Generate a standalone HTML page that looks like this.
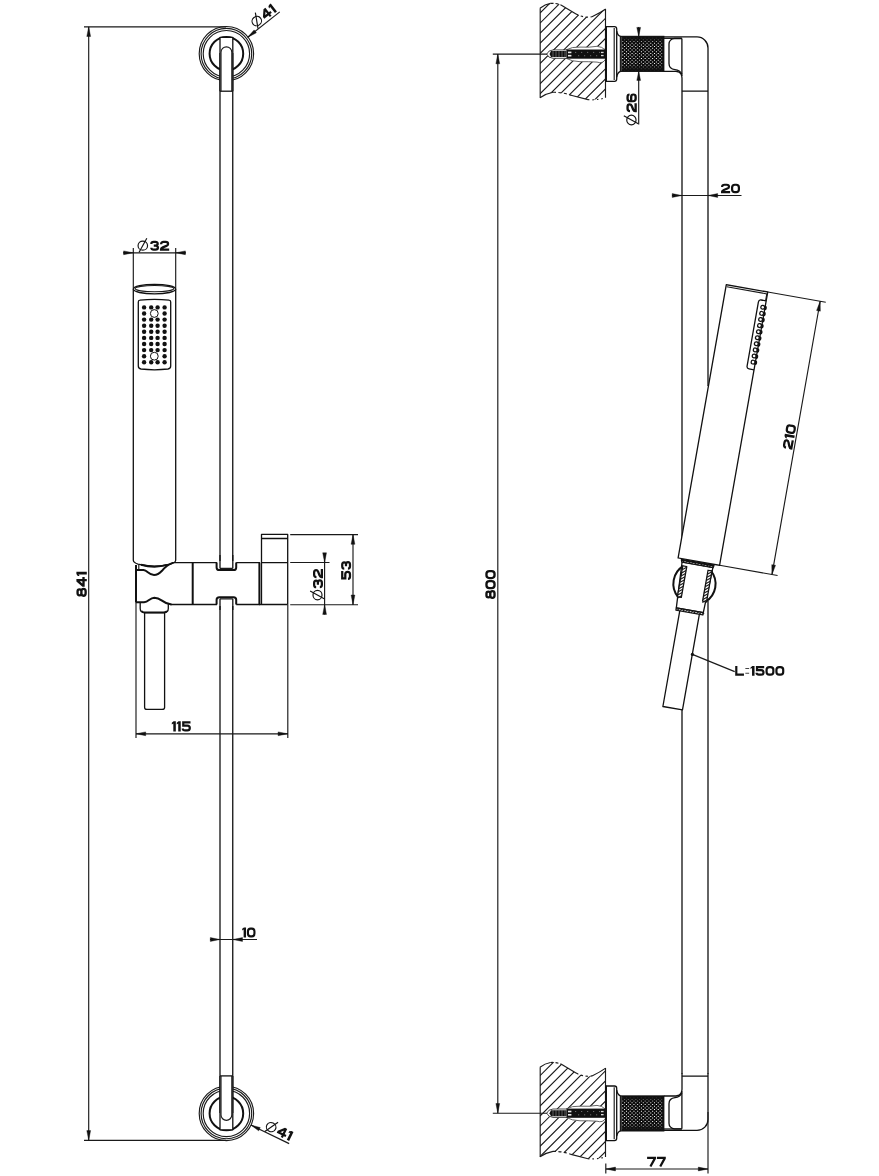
<!DOCTYPE html>
<html><head><meta charset="utf-8"><title>Shower rail drawing</title>
<style>
html,body{margin:0;padding:0;background:#fff;}
body{width:879px;height:1176px;overflow:hidden;font-family:"Liberation Sans",sans-serif;}
svg{display:block;}
text{font-family:"Liberation Sans",sans-serif;font-weight:bold;fill:#111;}
.o{fill:none;stroke:#111;stroke-width:1.3;stroke-linejoin:round;stroke-linecap:butt;}
.t{fill:none;stroke:#1a1a1a;stroke-width:1.15;}
.k{fill:none;stroke:#111;stroke-width:2;}
.w{fill:#fff;stroke:#111;stroke-width:1.3;stroke-linejoin:round;}
</style></head><body>
<svg width="879" height="1176" viewBox="0 0 879 1176">
<defs>
<g id="knurl"><rect width="43.6" height="35.1" fill="#0a0a0a"/><path fill="#fff" d="M1.90,1.30h1.05v1h-1.05zM5.64,1.30h1.05v1h-1.05zM9.38,1.30h1.05v1h-1.05zM13.12,1.30h1.05v1h-1.05zM16.86,1.30h1.05v1h-1.05zM20.60,1.30h1.05v1h-1.05zM24.34,1.30h1.05v1h-1.05zM28.08,1.30h1.05v1h-1.05zM31.82,1.30h1.05v1h-1.05zM35.56,1.30h1.05v1h-1.05zM39.30,1.30h1.05v1h-1.05zM3.77,3.00h1.05v1h-1.05zM7.51,3.00h1.05v1h-1.05zM11.25,3.00h1.05v1h-1.05zM14.99,3.00h1.05v1h-1.05zM18.73,3.00h1.05v1h-1.05zM22.47,3.00h1.05v1h-1.05zM26.21,3.00h1.05v1h-1.05zM29.95,3.00h1.05v1h-1.05zM33.69,3.00h1.05v1h-1.05zM37.43,3.00h1.05v1h-1.05zM41.17,3.00h1.05v1h-1.05zM1.90,4.70h1.05v1h-1.05zM5.64,4.70h1.05v1h-1.05zM9.38,4.70h1.05v1h-1.05zM13.12,4.70h1.05v1h-1.05zM16.86,4.70h1.05v1h-1.05zM20.60,4.70h1.05v1h-1.05zM24.34,4.70h1.05v1h-1.05zM28.08,4.70h1.05v1h-1.05zM31.82,4.70h1.05v1h-1.05zM35.56,4.70h1.05v1h-1.05zM39.30,4.70h1.05v1h-1.05zM3.77,6.40h1.05v1h-1.05zM7.51,6.40h1.05v1h-1.05zM11.25,6.40h1.05v1h-1.05zM14.99,6.40h1.05v1h-1.05zM18.73,6.40h1.05v1h-1.05zM22.47,6.40h1.05v1h-1.05zM26.21,6.40h1.05v1h-1.05zM29.95,6.40h1.05v1h-1.05zM33.69,6.40h1.05v1h-1.05zM37.43,6.40h1.05v1h-1.05zM41.17,6.40h1.05v1h-1.05zM1.90,8.10h1.05v1h-1.05zM5.64,8.10h1.05v1h-1.05zM9.38,8.10h1.05v1h-1.05zM13.12,8.10h1.05v1h-1.05zM16.86,8.10h1.05v1h-1.05zM20.60,8.10h1.05v1h-1.05zM24.34,8.10h1.05v1h-1.05zM28.08,8.10h1.05v1h-1.05zM31.82,8.10h1.05v1h-1.05zM35.56,8.10h1.05v1h-1.05zM39.30,8.10h1.05v1h-1.05zM3.77,9.80h1.05v1h-1.05zM7.51,9.80h1.05v1h-1.05zM11.25,9.80h1.05v1h-1.05zM14.99,9.80h1.05v1h-1.05zM18.73,9.80h1.05v1h-1.05zM22.47,9.80h1.05v1h-1.05zM26.21,9.80h1.05v1h-1.05zM29.95,9.80h1.05v1h-1.05zM33.69,9.80h1.05v1h-1.05zM37.43,9.80h1.05v1h-1.05zM41.17,9.80h1.05v1h-1.05zM1.90,11.50h1.05v1h-1.05zM5.64,11.50h1.05v1h-1.05zM9.38,11.50h1.05v1h-1.05zM13.12,11.50h1.05v1h-1.05zM16.86,11.50h1.05v1h-1.05zM20.60,11.50h1.05v1h-1.05zM24.34,11.50h1.05v1h-1.05zM28.08,11.50h1.05v1h-1.05zM31.82,11.50h1.05v1h-1.05zM35.56,11.50h1.05v1h-1.05zM39.30,11.50h1.05v1h-1.05zM3.77,13.20h1.05v1h-1.05zM7.51,13.20h1.05v1h-1.05zM11.25,13.20h1.05v1h-1.05zM14.99,13.20h1.05v1h-1.05zM18.73,13.20h1.05v1h-1.05zM22.47,13.20h1.05v1h-1.05zM26.21,13.20h1.05v1h-1.05zM29.95,13.20h1.05v1h-1.05zM33.69,13.20h1.05v1h-1.05zM37.43,13.20h1.05v1h-1.05zM41.17,13.20h1.05v1h-1.05zM1.90,14.90h1.05v1h-1.05zM5.64,14.90h1.05v1h-1.05zM9.38,14.90h1.05v1h-1.05zM13.12,14.90h1.05v1h-1.05zM16.86,14.90h1.05v1h-1.05zM20.60,14.90h1.05v1h-1.05zM24.34,14.90h1.05v1h-1.05zM28.08,14.90h1.05v1h-1.05zM31.82,14.90h1.05v1h-1.05zM35.56,14.90h1.05v1h-1.05zM39.30,14.90h1.05v1h-1.05zM3.77,16.60h1.05v1h-1.05zM7.51,16.60h1.05v1h-1.05zM11.25,16.60h1.05v1h-1.05zM14.99,16.60h1.05v1h-1.05zM18.73,16.60h1.05v1h-1.05zM22.47,16.60h1.05v1h-1.05zM26.21,16.60h1.05v1h-1.05zM29.95,16.60h1.05v1h-1.05zM33.69,16.60h1.05v1h-1.05zM37.43,16.60h1.05v1h-1.05zM41.17,16.60h1.05v1h-1.05zM1.90,18.30h1.05v1h-1.05zM5.64,18.30h1.05v1h-1.05zM9.38,18.30h1.05v1h-1.05zM13.12,18.30h1.05v1h-1.05zM16.86,18.30h1.05v1h-1.05zM20.60,18.30h1.05v1h-1.05zM24.34,18.30h1.05v1h-1.05zM28.08,18.30h1.05v1h-1.05zM31.82,18.30h1.05v1h-1.05zM35.56,18.30h1.05v1h-1.05zM39.30,18.30h1.05v1h-1.05zM3.77,20.00h1.05v1h-1.05zM7.51,20.00h1.05v1h-1.05zM11.25,20.00h1.05v1h-1.05zM14.99,20.00h1.05v1h-1.05zM18.73,20.00h1.05v1h-1.05zM22.47,20.00h1.05v1h-1.05zM26.21,20.00h1.05v1h-1.05zM29.95,20.00h1.05v1h-1.05zM33.69,20.00h1.05v1h-1.05zM37.43,20.00h1.05v1h-1.05zM41.17,20.00h1.05v1h-1.05zM1.90,21.70h1.05v1h-1.05zM5.64,21.70h1.05v1h-1.05zM9.38,21.70h1.05v1h-1.05zM13.12,21.70h1.05v1h-1.05zM16.86,21.70h1.05v1h-1.05zM20.60,21.70h1.05v1h-1.05zM24.34,21.70h1.05v1h-1.05zM28.08,21.70h1.05v1h-1.05zM31.82,21.70h1.05v1h-1.05zM35.56,21.70h1.05v1h-1.05zM39.30,21.70h1.05v1h-1.05zM3.77,23.40h1.05v1h-1.05zM7.51,23.40h1.05v1h-1.05zM11.25,23.40h1.05v1h-1.05zM14.99,23.40h1.05v1h-1.05zM18.73,23.40h1.05v1h-1.05zM22.47,23.40h1.05v1h-1.05zM26.21,23.40h1.05v1h-1.05zM29.95,23.40h1.05v1h-1.05zM33.69,23.40h1.05v1h-1.05zM37.43,23.40h1.05v1h-1.05zM41.17,23.40h1.05v1h-1.05zM1.90,25.10h1.05v1h-1.05zM5.64,25.10h1.05v1h-1.05zM9.38,25.10h1.05v1h-1.05zM13.12,25.10h1.05v1h-1.05zM16.86,25.10h1.05v1h-1.05zM20.60,25.10h1.05v1h-1.05zM24.34,25.10h1.05v1h-1.05zM28.08,25.10h1.05v1h-1.05zM31.82,25.10h1.05v1h-1.05zM35.56,25.10h1.05v1h-1.05zM39.30,25.10h1.05v1h-1.05zM3.77,26.80h1.05v1h-1.05zM7.51,26.80h1.05v1h-1.05zM11.25,26.80h1.05v1h-1.05zM14.99,26.80h1.05v1h-1.05zM18.73,26.80h1.05v1h-1.05zM22.47,26.80h1.05v1h-1.05zM26.21,26.80h1.05v1h-1.05zM29.95,26.80h1.05v1h-1.05zM33.69,26.80h1.05v1h-1.05zM37.43,26.80h1.05v1h-1.05zM41.17,26.80h1.05v1h-1.05zM1.90,28.50h1.05v1h-1.05zM5.64,28.50h1.05v1h-1.05zM9.38,28.50h1.05v1h-1.05zM13.12,28.50h1.05v1h-1.05zM16.86,28.50h1.05v1h-1.05zM20.60,28.50h1.05v1h-1.05zM24.34,28.50h1.05v1h-1.05zM28.08,28.50h1.05v1h-1.05zM31.82,28.50h1.05v1h-1.05zM35.56,28.50h1.05v1h-1.05zM39.30,28.50h1.05v1h-1.05zM3.77,30.20h1.05v1h-1.05zM7.51,30.20h1.05v1h-1.05zM11.25,30.20h1.05v1h-1.05zM14.99,30.20h1.05v1h-1.05zM18.73,30.20h1.05v1h-1.05zM22.47,30.20h1.05v1h-1.05zM26.21,30.20h1.05v1h-1.05zM29.95,30.20h1.05v1h-1.05zM33.69,30.20h1.05v1h-1.05zM37.43,30.20h1.05v1h-1.05zM41.17,30.20h1.05v1h-1.05zM1.90,31.90h1.05v1h-1.05zM5.64,31.90h1.05v1h-1.05zM9.38,31.90h1.05v1h-1.05zM13.12,31.90h1.05v1h-1.05zM16.86,31.90h1.05v1h-1.05zM20.60,31.90h1.05v1h-1.05zM24.34,31.90h1.05v1h-1.05zM28.08,31.90h1.05v1h-1.05zM31.82,31.90h1.05v1h-1.05zM35.56,31.90h1.05v1h-1.05zM39.30,31.90h1.05v1h-1.05zM3.77,33.60h1.05v1h-1.05zM7.51,33.60h1.05v1h-1.05zM11.25,33.60h1.05v1h-1.05zM14.99,33.60h1.05v1h-1.05zM18.73,33.60h1.05v1h-1.05zM22.47,33.60h1.05v1h-1.05zM26.21,33.60h1.05v1h-1.05zM29.95,33.60h1.05v1h-1.05zM33.69,33.60h1.05v1h-1.05zM37.43,33.60h1.05v1h-1.05zM41.17,33.60h1.05v1h-1.05z"/></g>
<linearGradient id="kg" x1="0" y1="0" x2="0" y2="1">
<stop offset="0" stop-color="#111" stop-opacity="1"/>
<stop offset="0.07" stop-color="#111" stop-opacity="0.85"/>
<stop offset="0.2" stop-color="#111" stop-opacity="0.05"/>
<stop offset="0.5" stop-color="#111" stop-opacity="0"/>
<stop offset="0.8" stop-color="#111" stop-opacity="0.05"/>
<stop offset="0.93" stop-color="#111" stop-opacity="0.85"/>
<stop offset="1" stop-color="#111" stop-opacity="1"/>
</linearGradient>
</defs>
<rect width="879" height="1176" fill="#fff"/>

<g id="left">
<path class="t" d="M84,26.8 H226 M84,1140.3 H226 M88.7,26.8 V1140.3"/>
<path transform="translate(88.7,26.8) rotate(-90)" d="M0,0 L-9.7,-1.9 L-9.7,1.9 Z" fill="#111" stroke="#111" stroke-width="0.4"/>
<path transform="translate(88.7,1140.3) rotate(90)" d="M0,0 L-9.7,-1.9 L-9.7,1.9 Z" fill="#111" stroke="#111" stroke-width="0.4"/>
<g transform="translate(86.8,584.35) rotate(-90) scale(1.0458,1.0612)" fill="none" stroke="#111" stroke-width="2.2" stroke-linejoin="miter" stroke-linecap="butt"><path transform="translate(-10.90,-8.70)" d="M2.3,0 H4.2 Q6.1,0 6.1,1.8 Q6.1,3.5999999999999996 4.2,3.5999999999999996 H2.3 Q0.4,3.5999999999999996 0.4,1.8 Q0.4,0 2.3,0 Z M2.3,3.5999999999999996 H4.2 Q6.5,3.5999999999999996 6.5,5.6 Q6.5,7.6 4.2,7.6 H2.3 Q0,7.6 0,5.6 Q0,3.5999999999999996 2.3,3.5999999999999996 Z"/><path transform="translate(-1.30,-8.70)" d="M5.4,8.7 V0 H4.6 L0,5 V5.6 H8.4"/><path transform="translate(9.10,-8.70)" d="M2.9,-1.1 V8.7 H0.3999999999999999 V0.8999999999999999 L-1.1,1.9 V0.19999999999999996 L0.7,-1.1 Z" fill="#111" stroke="none"/></g>
<path class="o" d="M220,53 V563 M232.75,53 V563 M220,604.4 V1113 M232.75,604.4 V1113" stroke-width="1.75"/>
<circle class="t" cx="226.4" cy="53.7" r="27.2"/>
<circle class="t" cx="226.4" cy="53.7" r="25.3" stroke-width="0.9"/>
<circle class="t" cx="226.4" cy="53.7" r="23.2" stroke-width="0.9"/>
<circle class="k" cx="226.4" cy="53.7" r="16.8" stroke-width="2.2"/>
<path class="w" d="M220,91.2 V37.300000000000004 H232.8 V91.2"/>
<path class="o" d="M220,91.2 H232.8"/>
<path class="t" d="M221,91.2 V52.2 A5.4,5.4 0 0 1 231.8,52.2 V91.2" stroke-width="0.9"/>
<circle class="t" cx="226.4" cy="1113.4" r="27.2"/>
<circle class="t" cx="226.4" cy="1113.4" r="25.3" stroke-width="0.9"/>
<circle class="t" cx="226.4" cy="1113.4" r="23.2" stroke-width="0.9"/>
<circle class="k" cx="226.4" cy="1113.4" r="16.8" stroke-width="2.2"/>
<path class="w" d="M220,1075.9 V1129.8000000000002 H232.8 V1075.9"/>
<path class="o" d="M220,1075.9 H232.8"/>
<path class="t" d="M221,1075.9 V1114.9 A5.4,5.4 0 0 0 231.8,1114.9 V1075.9" stroke-width="0.9"/>
<g transform="translate(247.7,37.3) rotate(-38.35)"><path class="t" d="M0,0 H40.9"/><path transform="translate(0,0) rotate(180)" d="M0,0 L-9.6,-1.8 L-9.6,1.8 Z" fill="#111" stroke="#111" stroke-width="0.4"/><g fill="none" stroke="#111" stroke-width="1.15"><ellipse cx="17.2" cy="-7.1" rx="4.8" ry="4.56"/><path d="M13.456,-0.3799999999999999 L21.28,-14.54"/></g><g transform="translate(24.5,-2.2) scale(1.0069,1.0204)" fill="none" stroke="#111" stroke-width="2.2" stroke-linejoin="miter" stroke-linecap="butt"><path transform="translate(1.10,-8.70)" d="M5.4,8.7 V0 H4.6 L0,5 V5.6 H8.4"/><path transform="translate(11.50,-8.70)" d="M2.9,-1.1 V8.7 H0.3999999999999999 V0.8999999999999999 L-1.1,1.9 V0.19999999999999996 L0.7,-1.1 Z" fill="#111" stroke="none"/></g></g>
<g transform="translate(251,1125.1) rotate(25.9)"><path class="t" d="M0,0 H42.4"/><path transform="translate(0,0) rotate(180)" d="M0,0 L-9.4,-1.8 L-9.4,1.8 Z" fill="#111" stroke="#111" stroke-width="0.4"/><g fill="none" stroke="#111" stroke-width="1.15"><ellipse cx="19" cy="-7" rx="4.8" ry="4.56"/><path d="M15.256,-0.28000000000000025 L23.08,-14.44"/></g><g transform="translate(26.45,-2.4) scale(1.0243,1.0204)" fill="none" stroke="#111" stroke-width="2.2" stroke-linejoin="miter" stroke-linecap="butt"><path transform="translate(1.10,-8.70)" d="M5.4,8.7 V0 H4.6 L0,5 V5.6 H8.4"/><path transform="translate(11.50,-8.70)" d="M2.9,-1.1 V8.7 H0.3999999999999999 V0.8999999999999999 L-1.1,1.9 V0.19999999999999996 L0.7,-1.1 Z" fill="#111" stroke="none"/></g></g>
<path class="o" d="M133.3,288.6 V560.3 Q133.5,562.8 138,564.2 Q154.5,568.6 171,564 Q175.5,562.6 175.7,560.3 V288.6" stroke-width="1.15"/>
<path class="k" d="M141,564.8 Q154.5,568.4 167,564.9" stroke-width="1.7"/>
<ellipse class="o" cx="154.5" cy="289.1" rx="21.2" ry="4.8"/>
<ellipse class="t" cx="154.5" cy="288.6" rx="19.4" ry="3.1"/>
<path class="o" d="M138.3,302 Q138.3,300.3 140,300.2 Q154.5,298.7 169,300.2 Q170.7,300.3 170.7,302 V366 Q170.7,368.6 168,369 Q154.5,370.6 141,369 Q138.3,368.6 138.3,366 Z"/>
<circle cx="144.1" cy="307.4" r="2.2" fill="#111"/>
<circle cx="151.2" cy="307.4" r="2.2" fill="#111"/>
<circle cx="157.6" cy="307.4" r="2.2" fill="#111"/>
<circle cx="164.6" cy="307.4" r="2.2" fill="#111"/>
<circle cx="144.1" cy="313.5" r="2.2" fill="#111"/>
<circle cx="164.6" cy="313.5" r="2.2" fill="#111"/>
<circle cx="144.1" cy="319.6" r="2.2" fill="#111"/>
<circle cx="151.2" cy="319.6" r="2.2" fill="#111"/>
<circle cx="157.6" cy="319.6" r="2.2" fill="#111"/>
<circle cx="164.6" cy="319.6" r="2.2" fill="#111"/>
<circle cx="144.1" cy="325.7" r="2.2" fill="#111"/>
<circle cx="151.2" cy="325.7" r="2.2" fill="#111"/>
<circle cx="157.6" cy="325.7" r="2.2" fill="#111"/>
<circle cx="164.6" cy="325.7" r="2.2" fill="#111"/>
<circle cx="144.1" cy="331.8" r="2.2" fill="#111"/>
<circle cx="151.2" cy="331.8" r="2.2" fill="#111"/>
<circle cx="157.6" cy="331.8" r="2.2" fill="#111"/>
<circle cx="164.6" cy="331.8" r="2.2" fill="#111"/>
<circle cx="144.1" cy="337.9" r="2.2" fill="#111"/>
<circle cx="151.2" cy="337.9" r="2.2" fill="#111"/>
<circle cx="157.6" cy="337.9" r="2.2" fill="#111"/>
<circle cx="164.6" cy="337.9" r="2.2" fill="#111"/>
<circle cx="144.1" cy="344.0" r="2.2" fill="#111"/>
<circle cx="151.2" cy="344.0" r="2.2" fill="#111"/>
<circle cx="157.6" cy="344.0" r="2.2" fill="#111"/>
<circle cx="164.6" cy="344.0" r="2.2" fill="#111"/>
<circle cx="144.1" cy="350.1" r="2.2" fill="#111"/>
<circle cx="151.2" cy="350.1" r="2.2" fill="#111"/>
<circle cx="157.6" cy="350.1" r="2.2" fill="#111"/>
<circle cx="164.6" cy="350.1" r="2.2" fill="#111"/>
<circle cx="144.1" cy="356.2" r="2.2" fill="#111"/>
<circle cx="164.6" cy="356.2" r="2.2" fill="#111"/>
<circle cx="144.1" cy="362.3" r="2.2" fill="#111"/>
<circle cx="151.2" cy="362.3" r="2.2" fill="#111"/>
<circle cx="157.6" cy="362.3" r="2.2" fill="#111"/>
<circle cx="164.6" cy="362.3" r="2.2" fill="#111"/>
<circle cx="154.3" cy="313.5" r="3.9" fill="#fff" stroke="#111" stroke-width="1"/>
<circle cx="154.3" cy="356.2" r="3.9" fill="#fff" stroke="#111" stroke-width="1"/>
<path class="t" d="M133.3,248 V288 M175.7,248 V288 M123,252.8 H186"/>
<path transform="translate(133.3,252.8) rotate(0)" d="M0,0 L-9.7,-1.9 L-9.7,1.9 Z" fill="#111" stroke="#111" stroke-width="0.4"/>
<path transform="translate(175.7,252.8) rotate(180)" d="M0,0 L-9.7,-1.9 L-9.7,1.9 Z" fill="#111" stroke="#111" stroke-width="0.4"/>
<g fill="none" stroke="#111" stroke-width="1.15"><ellipse cx="142.8" cy="245.65" rx="4.75" ry="4.5125"/><path d="M139.095,252.3 L146.8375,238.2875"/></g>
<g transform="translate(150.2,250.8) scale(1.0160,1.0204)" fill="none" stroke="#111" stroke-width="2.2" stroke-linejoin="miter" stroke-linecap="butt"><path transform="translate(1.10,-8.70)" d="M0,2.0 Q0,0 2.4,0 H4.0 Q6.3,0 6.3,1.9 Q6.3,3.6999999999999997 4.1,3.6999999999999997 H2.4 M4.1,3.6999999999999997 Q6.5,3.6999999999999997 6.5,5.699999999999999 Q6.5,7.6 4.1,7.6 H2.4 Q0,7.6 0,5.6"/><path transform="translate(10.70,-8.70)" d="M0,2.3 Q0,0 2.4,0 H4.5 Q6.9,0 6.9,2.0 Q6.9,3.3 5.3,3.9 L1.7,5.3 Q0,6 0,7 V7.6 H8.0"/></g>
<path class="o" d="M172,562.6 H260 M170.5,604.5 H260"/>
<path class="k" d="M136,565 V602.6" stroke-width="1.8"/>
<path class="k" d="M192.7,563 V604.4"/>
<path class="k" d="M259.4,562.6 V604.5" stroke-width="1.7"/>
<path d="M217,561 H236.2 V569 H217Z M217,606 H236.2 V598.4 H217Z" fill="#fff"/>
<path class="k" d="M216.6,562.6 V567.4 Q216.6,570 219.4,570 H233.6 Q236.2,570 236.2,567.4 V562.6" stroke-width="1.7"/>
<path class="k" d="M216.6,604.5 V599.8 Q216.6,597.3 219.4,597.3 H233.6 Q236.2,597.3 236.2,599.8 V604.5" stroke-width="1.7"/>
<path class="o" d="M220,555 V568.6 M232.8,555 V568.6 M220,598.8 V610 M232.8,598.8 V610" stroke-width="1.8"/>
<path class="t" d="M220,568.4 H232.8 M220,598.9 H232.8" stroke-width="1.1"/>
<path class="k" d="M136,570 H143.5 Q145.5,570.2 147.5,572 Q151,575 154,575 Q158,575 162,570.8 Q166.5,565.2 172.5,562.9" stroke-width="2"/>
<path class="t" d="M138.8,565 V570" stroke-width="1"/>
<path class="k" d="M135.6,602.2 H144 Q146.5,602 149,600 Q152,597.7 154.3,597.7 Q158,597.8 162,600.6 Q166.5,604 171.5,604.6" stroke-width="2"/>
<path class="o" d="M261.5,604.4 V534.4 H287.7 V604.4 M261.5,538.5 H287.7 M261.5,562.6 H287.7 M259.2,604.5 H287.7" stroke-width="1.05" stroke="#222"/>
<path class="o" d="M140.2,603 V608.5 Q140.2,612.6 145,612.6 H163.6 Q168.3,612.6 168.3,608.5 V603.8" stroke-width="1.2"/>
<path class="k" d="M141.5,611 Q142.6,612.6 145,612.6 H163.6 Q166,612.6 167,611" stroke-width="1.9"/>
<path class="o" d="M144.6,612.5 V707.5 Q144.6,709.4 147,709.4 H162 Q164.6,709.4 164.6,707.5 V612.5" stroke-width="1.1" stroke="#2a2a2a"/>
<path class="t" d="M136,603 V738 M287.8,604.4 V738 M136,733.8 H287.8"/>
<path transform="translate(136,733.8) rotate(180)" d="M0,0 L-9.7,-1.9 L-9.7,1.9 Z" fill="#111" stroke="#111" stroke-width="0.4"/>
<path transform="translate(287.8,733.8) rotate(0)" d="M0,0 L-9.7,-1.9 L-9.7,1.9 Z" fill="#111" stroke="#111" stroke-width="0.4"/>
<g transform="translate(171.8,731.6) scale(1.0053,1.0510)" fill="none" stroke="#111" stroke-width="2.2" stroke-linejoin="miter" stroke-linecap="butt"><path transform="translate(1.10,-8.70)" d="M2.9,-1.1 V8.7 H0.3999999999999999 V0.8999999999999999 L-1.1,1.9 V0.19999999999999996 L0.7,-1.1 Z" fill="#111" stroke="none"/><path transform="translate(6.00,-8.70)" d="M2.9,-1.1 V8.7 H0.3999999999999999 V0.8999999999999999 L-1.1,1.9 V0.19999999999999996 L0.7,-1.1 Z" fill="#111" stroke="none"/><path transform="translate(10.90,-8.70)" d="M7.699999999999999,0 H0.5 V3.0 H4.5 Q7.0,3.0 7.0,5.3 Q7.0,7.6 4.5,7.6 H2.4 Q0,7.6 0,5.699999999999999"/></g>
<path class="t" d="M290.2,534.6 H358 M290.2,604.7 H358 M290.2,562.5 H329.5 M353,534.6 V604.7 M324.6,553 V614.4"/>
<path transform="translate(353,534.6) rotate(-90)" d="M0,0 L-9.7,-1.9 L-9.7,1.9 Z" fill="#111" stroke="#111" stroke-width="0.4"/>
<path transform="translate(353,604.7) rotate(90)" d="M0,0 L-9.7,-1.9 L-9.7,1.9 Z" fill="#111" stroke="#111" stroke-width="0.4"/>
<path transform="translate(324.6,562.5) rotate(90)" d="M0,0 L-9.7,-1.9 L-9.7,1.9 Z" fill="#111" stroke="#111" stroke-width="0.4"/>
<path transform="translate(324.6,604.7) rotate(-90)" d="M0,0 L-9.7,-1.9 L-9.7,1.9 Z" fill="#111" stroke="#111" stroke-width="0.4"/>
<g transform="translate(351.1,570.5) rotate(-90) scale(1.0160,1.0204)" fill="none" stroke="#111" stroke-width="2.2" stroke-linejoin="miter" stroke-linecap="butt"><path transform="translate(-8.30,-8.70)" d="M7.699999999999999,0 H0.5 V3.0 H4.5 Q7.0,3.0 7.0,5.3 Q7.0,7.6 4.5,7.6 H2.4 Q0,7.6 0,5.699999999999999"/><path transform="translate(1.80,-8.70)" d="M0,2.0 Q0,0 2.4,0 H4.0 Q6.3,0 6.3,1.9 Q6.3,3.6999999999999997 4.1,3.6999999999999997 H2.4 M4.1,3.6999999999999997 Q6.5,3.6999999999999997 6.5,5.699999999999999 Q6.5,7.6 4.1,7.6 H2.4 Q0,7.6 0,5.6"/></g>
<g transform="rotate(-90 317.5 595.1)" fill="none" stroke="#111" stroke-width="1.15"><ellipse cx="317.5" cy="595.1" rx="4.75" ry="4.5125"/><path d="M313.795,601.75 L321.5375,587.7375000000001"/></g>
<g transform="translate(323,588.3) rotate(-90) scale(1.0374,1.0204)" fill="none" stroke="#111" stroke-width="2.2" stroke-linejoin="miter" stroke-linecap="butt"><path transform="translate(1.10,-8.70)" d="M0,2.0 Q0,0 2.4,0 H4.0 Q6.3,0 6.3,1.9 Q6.3,3.6999999999999997 4.1,3.6999999999999997 H2.4 M4.1,3.6999999999999997 Q6.5,3.6999999999999997 6.5,5.699999999999999 Q6.5,7.6 4.1,7.6 H2.4 Q0,7.6 0,5.6"/><path transform="translate(10.70,-8.70)" d="M0,2.3 Q0,0 2.4,0 H4.5 Q6.9,0 6.9,2.0 Q6.9,3.3 5.3,3.9 L1.7,5.3 Q0,6 0,7 V7.6 H8.0"/></g>
<path class="t" d="M210,939.5 H257"/>
<path transform="translate(220,939.5) rotate(0)" d="M0,0 L-9.7,-1.9 L-9.7,1.9 Z" fill="#111" stroke="#111" stroke-width="0.4"/>
<path transform="translate(232.8,939.5) rotate(180)" d="M0,0 L-9.7,-1.9 L-9.7,1.9 Z" fill="#111" stroke="#111" stroke-width="0.4"/>
<g transform="translate(242.2,937.4) scale(0.9568,1.0204)" fill="none" stroke="#111" stroke-width="2.2" stroke-linejoin="miter" stroke-linecap="butt"><path transform="translate(1.10,-8.70)" d="M2.9,-1.1 V8.7 H0.3999999999999999 V0.8999999999999999 L-1.1,1.9 V0.19999999999999996 L0.7,-1.1 Z" fill="#111" stroke="none"/><path transform="translate(6.00,-8.70)" d="M2.7,0 H4.1 Q6.8,0 6.8,2.7 V4.8999999999999995 Q6.8,7.6 4.1,7.6 H2.7 Q0,7.6 0,4.8999999999999995 V2.7 Q0,0 2.7,0 Z"/></g>
</g>
<g id="right">
<clipPath id="c1"><path d="M540,8.2 Q545,4.2 552,3.2 Q558,3.0 562,5.5 L576,14.0 Q584,18.2 592,16.8 Q600,13.0 605.7,9.0 L605.7,97.8 Q596,100.5 588,99.6 L572,95.5 Q562,92.0 553,92.3 Q546,93.5 540,97.8 Z"/></clipPath>
<path clip-path="url(#c1)" class="t" stroke-width="1.55" d="M540,3.0 L606,-63.0 M540,13.1 L606,-52.9 M540,23.2 L606,-42.8 M540,33.3 L606,-32.7 M540,43.4 L606,-22.6 M540,53.5 L606,-12.5 M540,63.6 L606,-2.4 M540,73.7 L606,7.7 M540,83.8 L606,17.8 M540,93.9 L606,27.9 M540,104.0 L606,38.0 M540,114.1 L606,48.1 M540,124.2 L606,58.2 M540,134.3 L606,68.3 M540,144.4 L606,78.4 M540,154.5 L606,88.5 M540,164.6 L606,98.6 M540,174.7 L606,108.7"/>
<path class="t" stroke="#444" stroke-width="1.7" d="M540.2,8.2 V97.8 M605.5,9.0 V97.8"/>
<path class="t" d="M540,8.2 Q545,4.2 550.5,3.4"/>
<path class="t" stroke-dasharray="3 2" d="M550.5,3.4 Q556,3.0 561,5.0"/>
<path class="t" d="M561,5.0 L576,14.0"/>
<path class="t" stroke-dasharray="2.5 2.5" d="M576,14.0 Q584,18.2 592,16.8"/>
<path class="t" d="M592,16.8 Q600,13.0 605.7,9.0"/>
<path class="t" d="M540,97.8 Q546,93.5 553,92.3"/>
<path class="t" stroke-dasharray="3 2.5" d="M553,92.3 Q562,92.0 572,95.5"/>
<path class="t" d="M572,95.5 L588,99.6"/>
<path class="t" stroke-dasharray="1.5 3" d="M588,99.6 Q596,100.5 605.7,97.8"/>
<path fill="#fff" stroke="#555" stroke-width="0.9" d="M566,49.9 Q572,46.6 580,47.1 Q590,47.6 597,46.300000000000004 Q602,46.6 605.5,50.1 V59.1 Q603,64.1 597,62.1 Q588,61.5 580,61.7 Q572,61.5 566,58.300000000000004 Z"/>
<path fill="#fff" stroke="#333" stroke-width="0.9" d="M546.8,54.1 Q548,50.300000000000004 553,49.9 H567 V58.300000000000004 H553 Q548,57.9 546.8,54.1 Z"/>
<path fill="#111" d="M549.5,54.1 L551,51.1 H566.5 V57.1 H551 Z"/>
<path stroke="#bbb" stroke-width="0.45" fill="none" d="M553,51.1 V57.1 M556,51.1 V57.1 M559,51.1 V57.1 M562,51.1 V57.1 M565,51.1 V57.1"/>
<rect x="566.8" y="49.5" width="38.7" height="9.2" fill="#111"/>
<rect x="568" y="51.6" width="3.4" height="1.6" fill="#eee"/><rect x="568" y="54.9" width="3.4" height="1.6" fill="#eee"/>
<rect x="601" y="51.800000000000004" width="2.6" height="1.3" fill="#ddd"/><rect x="601" y="54.9" width="2.6" height="1.3" fill="#ddd"/>
<rect x="575" y="51.9" width="1.2" height="0.9" fill="#777"/><rect x="578" y="55.3" width="1.2" height="0.9" fill="#777"/><rect x="581" y="51.9" width="1.2" height="0.9" fill="#777"/><rect x="584" y="55.3" width="1.2" height="0.9" fill="#777"/><rect x="587" y="51.9" width="1.2" height="0.9" fill="#777"/><rect x="590" y="55.3" width="1.2" height="0.9" fill="#777"/><rect x="593" y="51.9" width="1.2" height="0.9" fill="#777"/><rect x="596" y="55.3" width="1.2" height="0.9" fill="#777"/><rect x="599" y="51.9" width="1.2" height="0.9" fill="#777"/>
<clipPath id="c2"><path d="M540,1067.3 Q545,1063.3 552,1062.3 Q558,1062.1 562,1064.6 L576,1073.1 Q584,1077.3 592,1075.9 Q600,1072.1 605.7,1068.1 L605.7,1156.9 Q596,1159.6 588,1158.7 L572,1154.6 Q562,1151.1 553,1151.4 Q546,1152.6 540,1156.9 Z"/></clipPath>
<path clip-path="url(#c2)" class="t" stroke-width="1.55" d="M540,1065.6 L606,999.6 M540,1075.7 L606,1009.7 M540,1085.8 L606,1019.8 M540,1095.9 L606,1029.9 M540,1106.0 L606,1040.0 M540,1116.1 L606,1050.1 M540,1126.2 L606,1060.2 M540,1136.3 L606,1070.3 M540,1146.4 L606,1080.4 M540,1156.5 L606,1090.5 M540,1166.6 L606,1100.6 M540,1176.7 L606,1110.7 M540,1186.8 L606,1120.8 M540,1196.9 L606,1130.9 M540,1207.0 L606,1141.0 M540,1217.1 L606,1151.1 M540,1227.2 L606,1161.2 M540,1237.3 L606,1171.3"/>
<path class="t" stroke="#444" stroke-width="1.7" d="M540.2,1067.3 V1156.9 M605.5,1068.1 V1156.9"/>
<path class="t" d="M540,1067.3 Q545,1063.3 550.5,1062.5"/>
<path class="t" stroke-dasharray="3 2" d="M550.5,1062.5 Q556,1062.1 561,1064.1"/>
<path class="t" d="M561,1064.1 L576,1073.1"/>
<path class="t" stroke-dasharray="2.5 2.5" d="M576,1073.1 Q584,1077.3 592,1075.9"/>
<path class="t" d="M592,1075.9 Q600,1072.1 605.7,1068.1"/>
<path class="t" d="M540,1156.9 Q546,1152.6 553,1151.4"/>
<path class="t" stroke-dasharray="3 2.5" d="M553,1151.4 Q562,1151.1 572,1154.6"/>
<path class="t" d="M572,1154.6 L588,1158.7"/>
<path class="t" stroke-dasharray="1.5 3" d="M588,1158.7 Q596,1159.6 605.7,1156.9"/>
<path fill="#fff" stroke="#555" stroke-width="0.9" d="M566,1109.0 Q572,1105.7 580,1106.2 Q590,1106.7 597,1105.4 Q602,1105.7 605.5,1109.2 V1118.2 Q603,1123.2 597,1121.2 Q588,1120.6000000000001 580,1120.8 Q572,1120.6000000000001 566,1117.4 Z"/>
<path fill="#fff" stroke="#333" stroke-width="0.9" d="M546.8,1113.2 Q548,1109.4 553,1109.0 H567 V1117.4 H553 Q548,1117.0 546.8,1113.2 Z"/>
<path fill="#111" d="M549.5,1113.2 L551,1110.2 H566.5 V1116.2 H551 Z"/>
<path stroke="#bbb" stroke-width="0.45" fill="none" d="M553,1110.2 V1116.2 M556,1110.2 V1116.2 M559,1110.2 V1116.2 M562,1110.2 V1116.2 M565,1110.2 V1116.2"/>
<rect x="566.8" y="1108.6000000000001" width="38.7" height="9.2" fill="#111"/>
<rect x="568" y="1110.7" width="3.4" height="1.6" fill="#eee"/><rect x="568" y="1114.0" width="3.4" height="1.6" fill="#eee"/>
<rect x="601" y="1110.9" width="2.6" height="1.3" fill="#ddd"/><rect x="601" y="1114.0" width="2.6" height="1.3" fill="#ddd"/>
<rect x="575" y="1111.0" width="1.2" height="0.9" fill="#777"/><rect x="578" y="1114.4" width="1.2" height="0.9" fill="#777"/><rect x="581" y="1111.0" width="1.2" height="0.9" fill="#777"/><rect x="584" y="1114.4" width="1.2" height="0.9" fill="#777"/><rect x="587" y="1111.0" width="1.2" height="0.9" fill="#777"/><rect x="590" y="1114.4" width="1.2" height="0.9" fill="#777"/><rect x="593" y="1111.0" width="1.2" height="0.9" fill="#777"/><rect x="596" y="1114.4" width="1.2" height="0.9" fill="#777"/><rect x="599" y="1111.0" width="1.2" height="0.9" fill="#777"/>
<path class="w" d="M606,26.7 H614.5 Q616.7,26.7 616.7,29.1 V79.1 Q616.7,81.3 614.5,81.3 H606 Z" stroke-width="1.4"/>
<path class="t" d="M614.2,28.1 V80.1" stroke-width="0.9"/>
<path class="k" d="M606,26.5 V81.5" stroke-width="2"/>
<path class="o" d="M616.7,31.1 Q617.5,35.6 620.5,36.4 M616.7,77.1 Q617.5,72.4 620.5,71.4"/>
<use href="#knurl" x="620.3" y="36.3"/>
<rect x="620.3" y="36.3" width="43.6" height="35.1" fill="url(#kg)"/>
<rect x="637.9" y="36.3" width="1.5" height="35.1" fill="#111" opacity="0.55"/>
<rect x="620.3" y="36.3" width="1.6" height="35.1" fill="#444"/>
<rect x="662.2" y="36.3" width="1.7" height="35.1" fill="#111"/>
<rect x="620.3" y="36.3" width="43.6" height="35.1" fill="none" stroke="#111" stroke-width="1"/>
<path class="o" d="M663.9,36.9 H697 A11,11 0 0 1 708,48.1 V94.1" stroke-width="1.85"/>
<path class="o" d="M663.9,38.3 H681.8" stroke-width="1"/>
<path class="o" d="M663.9,71.3 H676 Q680,71.7 681,74.1 Q681.9,75.6 682,78.1 V94.1" stroke-width="1.8"/>
<path class="o" d="M681.9,38.5 H674.5 A5.5,5.5 0 0 0 669,44.1 V63.6 Q669,69.1 675,69.7 Q680,70.3 681.9,74.1" stroke-width="1.7"/>
<path class="o" d="M681.9,38.5 V76.1 M681.9,91.2 H708" stroke-width="1.15"/>
<path class="w" d="M606,1140.6 H614.5 Q616.7,1140.6 616.7,1138.2 V1088.2 Q616.7,1086.0 614.5,1086.0 H606 Z" stroke-width="1.4"/>
<path class="t" d="M614.2,1139.2 V1087.2" stroke-width="0.9"/>
<path class="k" d="M606,1140.8 V1085.8" stroke-width="2"/>
<path class="o" d="M616.7,1136.2 Q617.5,1131.7 620.5,1130.9 M616.7,1090.2 Q617.5,1094.9 620.5,1095.9"/>
<use href="#knurl" x="620.3" y="1095.9"/>
<rect x="620.3" y="1095.9" width="43.6" height="35.1" fill="url(#kg)"/>
<rect x="637.9" y="1095.9" width="1.5" height="35.1" fill="#111" opacity="0.55"/>
<rect x="620.3" y="1095.9" width="1.6" height="35.1" fill="#444"/>
<rect x="662.2" y="1095.9" width="1.7" height="35.1" fill="#111"/>
<rect x="620.3" y="1095.9" width="43.6" height="35.1" fill="none" stroke="#111" stroke-width="1"/>
<path class="o" d="M663.9,1130.4 H697 A11,11 0 0 0 708,1119.2 V1073.2" stroke-width="1.85"/>
<path class="o" d="M663.9,1129.0 H681.8" stroke-width="1"/>
<path class="o" d="M663.9,1096.0 H676 Q680,1095.6 681,1093.2 Q681.9,1091.7 682,1089.2 V1073.2" stroke-width="1.8"/>
<path class="o" d="M681.9,1128.8 H674.5 A5.5,5.5 0 0 1 669,1123.2 V1103.7 Q669,1098.2 675,1097.6 Q680,1097.0 681.9,1093.2" stroke-width="1.7"/>
<path class="o" d="M681.9,1128.8 V1091.2 M681.9,1076.1 H708" stroke-width="1.15"/>
<path class="o" d="M682,94 V538 M708,94 V386 M708,601 V1074 M682,710 V1074" stroke-width="1.85"/>
<path class="t" d="M492.8,54.1 H547 M492.8,1113.2 H547 M497.8,54.1 V1113.2"/>
<path transform="translate(497.8,54.1) rotate(-90)" d="M0,0 L-9.7,-1.9 L-9.7,1.9 Z" fill="#111" stroke="#111" stroke-width="0.4"/>
<path transform="translate(497.8,1113.2) rotate(90)" d="M0,0 L-9.7,-1.9 L-9.7,1.9 Z" fill="#111" stroke="#111" stroke-width="0.4"/>
<g transform="translate(495.7,584.45) rotate(-90) scale(1.0140,1.0612)" fill="none" stroke="#111" stroke-width="2.2" stroke-linejoin="miter" stroke-linecap="butt"><path transform="translate(-13.15,-8.70)" d="M2.3,0 H4.2 Q6.1,0 6.1,1.8 Q6.1,3.5999999999999996 4.2,3.5999999999999996 H2.3 Q0.4,3.5999999999999996 0.4,1.8 Q0.4,0 2.3,0 Z M2.3,3.5999999999999996 H4.2 Q6.5,3.5999999999999996 6.5,5.6 Q6.5,7.6 4.2,7.6 H2.3 Q0,7.6 0,5.6 Q0,3.5999999999999996 2.3,3.5999999999999996 Z"/><path transform="translate(-3.55,-8.70)" d="M2.7,0 H4.1 Q6.8,0 6.8,2.7 V4.8999999999999995 Q6.8,7.6 4.1,7.6 H2.7 Q0,7.6 0,4.8999999999999995 V2.7 Q0,0 2.7,0 Z"/><path transform="translate(6.35,-8.70)" d="M2.7,0 H4.1 Q6.8,0 6.8,2.7 V4.8999999999999995 Q6.8,7.6 4.1,7.6 H2.7 Q0,7.6 0,4.8999999999999995 V2.7 Q0,0 2.7,0 Z"/></g>
<path class="t" d="M638.7,27 V36.5 M638.7,71.5 V124.6"/>
<path transform="translate(638.7,36.4) rotate(90)" d="M0,0 L-9,-1.9 L-9,1.9 Z" fill="#111" stroke="#111" stroke-width="0.4"/>
<path transform="translate(638.7,71.4) rotate(-90)" d="M0,0 L-9,-1.9 L-9,1.9 Z" fill="#111" stroke="#111" stroke-width="0.4"/>
<g transform="rotate(-90 631.4 120)" fill="none" stroke="#111" stroke-width="1.15"><ellipse cx="631.4" cy="120" rx="4.9" ry="4.655"/><path d="M627.578,126.86 L635.5649999999999,112.405"/></g>
<g transform="translate(636.8,112.3) rotate(-90) scale(0.9947,1.0612)" fill="none" stroke="#111" stroke-width="2.2" stroke-linejoin="miter" stroke-linecap="butt"><path transform="translate(1.10,-8.70)" d="M0,2.3 Q0,0 2.4,0 H4.5 Q6.9,0 6.9,2.0 Q6.9,3.3 5.3,3.9 L1.7,5.3 Q0,6 0,7 V7.6 H8.0"/><path transform="translate(11.10,-8.70)" d="M6.8,1.9 Q6.8,0 4.4,0 H2.4 Q0,0 0,2.4 V5.3 Q0,7.6 2.4,7.6 H4.4 Q6.8,7.6 6.8,5.5 Q6.8,3.4 4.4,3.4 H0.2"/></g>
<path class="t" d="M672,195.5 H741.5"/>
<path transform="translate(681.9,195.5) rotate(0)" d="M0,0 L-9.7,-1.9 L-9.7,1.9 Z" fill="#111" stroke="#111" stroke-width="0.4"/>
<path transform="translate(708,195.5) rotate(180)" d="M0,0 L-9.7,-1.9 L-9.7,1.9 Z" fill="#111" stroke="#111" stroke-width="0.4"/>
<g transform="translate(721,193.2) scale(1.0000,0.9694)" fill="none" stroke="#111" stroke-width="2.2" stroke-linejoin="miter" stroke-linecap="butt"><path transform="translate(1.10,-8.70)" d="M0,2.3 Q0,0 2.4,0 H4.5 Q6.9,0 6.9,2.0 Q6.9,3.3 5.3,3.9 L1.7,5.3 Q0,6 0,7 V7.6 H8.0"/><path transform="translate(11.10,-8.70)" d="M2.7,0 H4.1 Q6.8,0 6.8,2.7 V4.8999999999999995 Q6.8,7.6 4.1,7.6 H2.7 Q0,7.6 0,4.8999999999999995 V2.7 Q0,0 2.7,0 Z"/></g>
<path class="t" d="M605.8,1163.5 V1173.5 M708,1112 V1173.5 M605.8,1169 H708"/>
<path transform="translate(605.8,1169) rotate(180)" d="M0,0 L-9.7,-1.9 L-9.7,1.9 Z" fill="#111" stroke="#111" stroke-width="0.4"/>
<path transform="translate(708,1169) rotate(0)" d="M0,0 L-9.7,-1.9 L-9.7,1.9 Z" fill="#111" stroke="#111" stroke-width="0.4"/>
<g transform="translate(647.1,1166.5) scale(1.0108,0.9898)" fill="none" stroke="#111" stroke-width="2.2" stroke-linejoin="miter" stroke-linecap="butt"><path transform="translate(1.10,-8.70)" d="M-1.1,0 H6.6 V0.5 L2.2,8.7"/><path transform="translate(10.80,-8.70)" d="M-1.1,0 H6.6 V0.5 L2.2,8.7"/></g>
<g transform="translate(726.3,284.7) rotate(10)">
<path class="w" d="M10.8,329 V426.4 H30.7 V329" stroke-width="1.2"/>
<path class="w" d="M4.6,280.6 L6.9,327 H34.3 L35.9,280.6 Z" stroke-width="1.2"/>
<path class="w" d="M6.9,327 H34.3 V329.3 H6.9 Z" stroke-width="1.1"/>
<path class="t" stroke-width="0.8" d="M8.0,329.3 L10.0,327 M10.8,329.3 L12.8,327 M13.6,329.3 L15.6,327 M16.4,329.3 L18.4,327 M19.2,329.3 L21.2,327 M22.0,329.3 L24.0,327 M24.8,329.3 L26.8,327 M27.6,329.3 L29.6,327 M30.4,329.3 L32.4,327 M33.2,329.3 L35.2,327"/>
<path class="k" d="M6.6,284.4 A20.9,20.9 0 0 0 6.6,315.8 M34.6,284.4 A20.9,20.9 0 0 1 34.6,315.8" stroke-width="1.7"/>
<path class="w" d="M6.0,284.4 H10.0 V315.8 H6.0 Z" stroke-width="1.2"/>
<path class="t" stroke-width="1.25" d="M6.0,288.4 L10.0,285.2 M6.0,291.6 L10.0,288.4 M6.0,294.8 L10.0,291.6 M6.0,298.0 L10.0,294.8 M6.0,301.2 L10.0,298.0 M6.0,304.4 L10.0,301.2 M6.0,307.6 L10.0,304.4 M6.0,310.8 L10.0,307.6 M6.0,314.0 L10.0,310.8 M6.0,317.2 L10.0,314.0"/>
<path class="w" d="M31.6,284.4 H35.6 V315.8 H31.6 Z" stroke-width="1.2"/>
<path class="t" stroke-width="1.25" d="M31.6,288.4 L35.6,285.2 M31.6,291.6 L35.6,288.4 M31.6,294.8 L35.6,291.6 M31.6,298.0 L35.6,294.8 M31.6,301.2 L35.6,298.0 M31.6,304.4 L35.6,301.2 M31.6,307.6 L35.6,304.4 M31.6,310.8 L35.6,307.6 M31.6,314.0 L35.6,310.8 M31.6,317.2 L35.6,314.0"/>
<path class="w" d="M3.5,278.6 H36.2 V281 H4.4 Z" stroke-width="1.1"/>
<path class="t" stroke-width="0.8" d="M5.0,281 L7.2,278.6 M8.0,281 L10.2,278.6 M11.0,281 L13.2,278.6 M14.0,281 L16.2,278.6 M17.0,281 L19.2,278.6 M20.0,281 L22.2,278.6 M23.0,281 L25.2,278.6 M26.0,281 L28.2,278.6 M29.0,281 L31.2,278.6 M32.0,281 L34.2,278.6 M35.0,281 L37.2,278.6"/>
<path class="k" d="M3.5,278.7 H36.2" stroke-width="1.6"/>
<path d="M0,0 H42.1 V277.5 H0 Z" fill="#fff"/>
<path class="o" d="M0,0 H42.1 V277.5 H0 Z" stroke-width="1.2"/>
<path class="t" d="M0.8,2 H41.5 V9" stroke-width="0.9"/>
<path class="o" d="M42.1,9 H37 Q34.6,9 34.6,11.5 V76.5 Q34.6,79 37,79 H42.1" stroke-width="1.1"/>
<ellipse cx="42.3" cy="16.1" rx="1.7" ry="2.3" fill="#111"/>
<circle cx="39.8" cy="15.9" r="1.9" fill="#fff" stroke="#111" stroke-width="1.25"/>
<ellipse cx="42.3" cy="22.3" rx="1.7" ry="2.3" fill="#111"/>
<circle cx="39.8" cy="22.1" r="1.9" fill="#fff" stroke="#111" stroke-width="1.25"/>
<ellipse cx="42.3" cy="28.5" rx="1.7" ry="2.3" fill="#111"/>
<circle cx="39.8" cy="28.3" r="1.9" fill="#fff" stroke="#111" stroke-width="1.25"/>
<ellipse cx="42.3" cy="34.7" rx="1.7" ry="2.3" fill="#111"/>
<circle cx="39.8" cy="34.5" r="1.9" fill="#fff" stroke="#111" stroke-width="1.25"/>
<ellipse cx="42.3" cy="40.9" rx="1.7" ry="2.3" fill="#111"/>
<circle cx="39.8" cy="40.7" r="1.9" fill="#fff" stroke="#111" stroke-width="1.25"/>
<ellipse cx="42.3" cy="47.1" rx="1.7" ry="2.3" fill="#111"/>
<circle cx="39.8" cy="46.9" r="1.9" fill="#fff" stroke="#111" stroke-width="1.25"/>
<ellipse cx="42.3" cy="53.2" rx="1.7" ry="2.3" fill="#111"/>
<circle cx="39.8" cy="53.0" r="1.9" fill="#fff" stroke="#111" stroke-width="1.25"/>
<ellipse cx="42.3" cy="59.4" rx="1.7" ry="2.3" fill="#111"/>
<circle cx="39.8" cy="59.2" r="1.9" fill="#fff" stroke="#111" stroke-width="1.25"/>
<ellipse cx="42.3" cy="65.6" rx="1.7" ry="2.3" fill="#111"/>
<circle cx="39.8" cy="65.4" r="1.9" fill="#fff" stroke="#111" stroke-width="1.25"/>
<ellipse cx="42.3" cy="71.8" rx="1.7" ry="2.3" fill="#111"/>
<circle cx="39.8" cy="71.6" r="1.9" fill="#fff" stroke="#111" stroke-width="1.25"/>
<path class="t" d="M42.1,0 H101 M42.1,277.5 H101 M95.3,0 V277.5"/>
<path transform="translate(95.3,0) rotate(-90)" d="M0,0 L-9.7,-1.9 L-9.7,1.9 Z" fill="#111" stroke="#111" stroke-width="0.4"/>
<path transform="translate(95.3,277.5) rotate(90)" d="M0,0 L-9.7,-1.9 L-9.7,1.9 Z" fill="#111" stroke="#111" stroke-width="0.4"/>
<g transform="translate(93.6,138.8) rotate(-90) scale(1.0335,1.0204)" fill="none" stroke="#111" stroke-width="2.2" stroke-linejoin="miter" stroke-linecap="butt"><path transform="translate(-10.85,-8.70)" d="M0,2.3 Q0,0 2.4,0 H4.5 Q6.9,0 6.9,2.0 Q6.9,3.3 5.3,3.9 L1.7,5.3 Q0,6 0,7 V7.6 H8.0"/><path transform="translate(-0.85,-8.70)" d="M2.9,-1.1 V8.7 H0.3999999999999999 V0.8999999999999999 L-1.1,1.9 V0.19999999999999996 L0.7,-1.1 Z" fill="#111" stroke="none"/><path transform="translate(4.05,-8.70)" d="M2.7,0 H4.1 Q6.8,0 6.8,2.7 V4.8999999999999995 Q6.8,7.6 4.1,7.6 H2.7 Q0,7.6 0,4.8999999999999995 V2.7 Q0,0 2.7,0 Z"/></g>
</g>
<path class="t" d="M692.4,654.4 L734.7,671.6"/><circle cx="692.4" cy="654.4" r="1.6" fill="#111"/>
<g transform="translate(735.1,675.8) scale(0.9960,0.9898)" fill="none" stroke="#111" stroke-width="2.2" stroke-linejoin="miter" stroke-linecap="butt"><path transform="translate(1.10,-8.70)" d="M0.1,-1.1 V7.6 H7.800000000000001"/><path transform="translate(10.90,-8.70)" d="M-0.6,1.4 H3.2 M-0.6,6.2 H3.2" stroke-width="1.1" stroke="#444"/><path transform="translate(16.60,-8.70)" d="M2.9,-1.1 V8.7 H0.3999999999999999 V0.8999999999999999 L-1.1,1.9 V0.19999999999999996 L0.7,-1.1 Z" fill="#111" stroke="none"/><path transform="translate(21.50,-8.70)" d="M7.699999999999999,0 H0.5 V3.0 H4.5 Q7.0,3.0 7.0,5.3 Q7.0,7.6 4.5,7.6 H2.4 Q0,7.6 0,5.699999999999999"/><path transform="translate(31.60,-8.70)" d="M2.7,0 H4.1 Q6.8,0 6.8,2.7 V4.8999999999999995 Q6.8,7.6 4.1,7.6 H2.7 Q0,7.6 0,4.8999999999999995 V2.7 Q0,0 2.7,0 Z"/><path transform="translate(41.50,-8.70)" d="M2.7,0 H4.1 Q6.8,0 6.8,2.7 V4.8999999999999995 Q6.8,7.6 4.1,7.6 H2.7 Q0,7.6 0,4.8999999999999995 V2.7 Q0,0 2.7,0 Z"/></g>
</g>
</svg></body></html>
